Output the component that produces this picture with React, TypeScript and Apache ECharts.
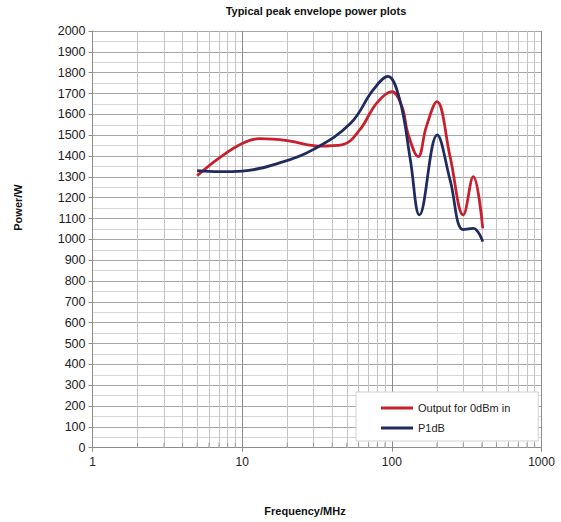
import React, { useEffect, useRef } from "react";
import * as echarts from "echarts";

const titleText = "Typical peak envelope power plots";
const xName = "Frequency/MHz";
const yName = "Power/W";

const outputName = "Output for 0dBm in";
const outputData: [number, number][] = [
  [5, 1305], [7, 1390], [10, 1460], [13, 1483], [20, 1474], [33, 1448],
  [47, 1455], [61, 1525], [79, 1653], [100, 1709], [117, 1637], [128, 1509],
  [150, 1397], [170, 1541], [200, 1661], [245, 1397], [300, 1117],
  [350, 1301], [405, 1053],
];

const p1dbName = "P1dB";
const p1dbData: [number, number][] = [
  [5, 1330], [7, 1325], [10, 1328], [18, 1368], [30, 1432], [53, 1557],
  [75, 1717], [94, 1782], [113, 1669], [133, 1381], [153, 1117],
  [201, 1501], [245, 1285], [300, 1047], [350, 1053], [405, 989],
];

const minorFreqs = [2, 3, 4, 5, 6, 7, 8, 9, 20, 30, 40, 50, 60, 70, 80, 90, 200, 300, 400, 500, 600, 700, 800, 900];

export default function App() {
  const ref = useRef<HTMLDivElement>(null);
  useEffect(() => {
    if (!ref.current) return;
    const chart = echarts.init(ref.current, undefined, { renderer: "svg" });
    const font = "'Liberation Sans', Arial, sans-serif";
    const nameStyle = {
      fontFamily: font,
      fontSize: 11,
      fontWeight: "bold",
      fill: "#111",
      align: "center",
      verticalAlign: "middle",
    };
    chart.setOption({
      animation: false,
      textStyle: { fontFamily: font },
      title: {
        text: titleText,
        left: 316,
        top: 4,
        textAlign: "center",
        padding: 0,
        textStyle: { fontFamily: font, fontSize: 11, fontWeight: "bold", color: "#111", lineHeight: 13 },
      },
      grid: { left: 92.5, right: 19.5, top: 31, bottom: 74.3, containLabel: false },
      legend: {
        orient: "vertical",
        left: 356,
        top: 392,
        z: 20,
        backgroundColor: "#ffffff",
        borderColor: "#d0d0d0",
        borderWidth: 1,
        padding: [9, 28, 6, 25],
        itemGap: 6,
        itemWidth: 32,
        itemHeight: 3,
        icon: "rect",
        textStyle: { fontSize: 11, color: "#222", fontFamily: font, lineHeight: 14 },
        data: [outputName, p1dbName],
      },
      graphic: [
        { type: "text", x: 305, y: 511, style: { ...nameStyle, text: xName } },
        { type: "text", x: 17.5, y: 207.5, rotation: Math.PI / 2, style: { ...nameStyle, text: yName } },
      ],
      xAxis: {
        type: "log",
        logBase: 10,
        min: 1,
        max: 1000,
        axisLine: { show: true, lineStyle: { color: "#8c8c8c", width: 1 } },
        axisTick: { show: true, length: 4, lineStyle: { color: "#8c8c8c" } },
        axisLabel: { fontSize: 12, color: "#222", margin: 8, fontFamily: font, formatter: (v: number) => String(Math.round(v)) },
        splitLine: { show: true, lineStyle: { color: "#8c8c8c", width: 1 } },
        minorTick: { show: false },
        minorSplitLine: { show: false },
      },
      yAxis: {
        type: "value",
        min: 0,
        max: 2000,
        interval: 100,
        axisLine: { show: true, lineStyle: { color: "#8c8c8c", width: 1 } },
        axisTick: { show: true, length: 4, lineStyle: { color: "#8c8c8c" } },
        axisLabel: { fontSize: 12.5, color: "#222", margin: 7, fontFamily: font, formatter: (v: number) => String(v) },
        splitLine: { show: true, lineStyle: { color: "#a6a6a6", width: 1 } },
        minorTick: { show: false, splitNumber: 2 },
        minorSplitLine: { show: true, lineStyle: { color: "#d6d6d6", width: 1 } },
      },
      series: [
        {
          type: "line",
          name: "minorGrid",
          data: [],
          silent: true,
          z: 1,
          markLine: {
            silent: true,
            z: 1,
            symbol: "none",
            label: { show: false },
            lineStyle: { color: "#c4c4c4", width: 1, type: "solid" },
            data: minorFreqs.map((f) => ({ xAxis: f })),
          },
        },
        {
          type: "scatter",
          name: "minorTicks",
          silent: true,
          symbol: "rect",
          symbolSize: [1, 5],
          symbolOffset: [0, -2.5],
          itemStyle: { color: "#8c8c8c" },
          data: minorFreqs.map((f) => [f, 0]),
          z: 2,
        },
        {
          type: "line",
          name: outputName,
          data: outputData,
          smooth: 0.4,
          symbol: "none",
          lineStyle: { color: "#c91f2c", width: 2.75 },
          itemStyle: { color: "#c91f2c" },
          z: 3,
        },
        {
          type: "line",
          name: p1dbName,
          data: p1dbData,
          smooth: 0.4,
          symbol: "none",
          lineStyle: { color: "#1f2a5e", width: 2.75 },
          itemStyle: { color: "#1f2a5e" },
          z: 4,
        },
      ],
    });
    return () => chart.dispose();
  }, []);
  return <div ref={ref} style={{ position: "absolute", left: 0, top: 0, width: 561, height: 522 }} />;
}
